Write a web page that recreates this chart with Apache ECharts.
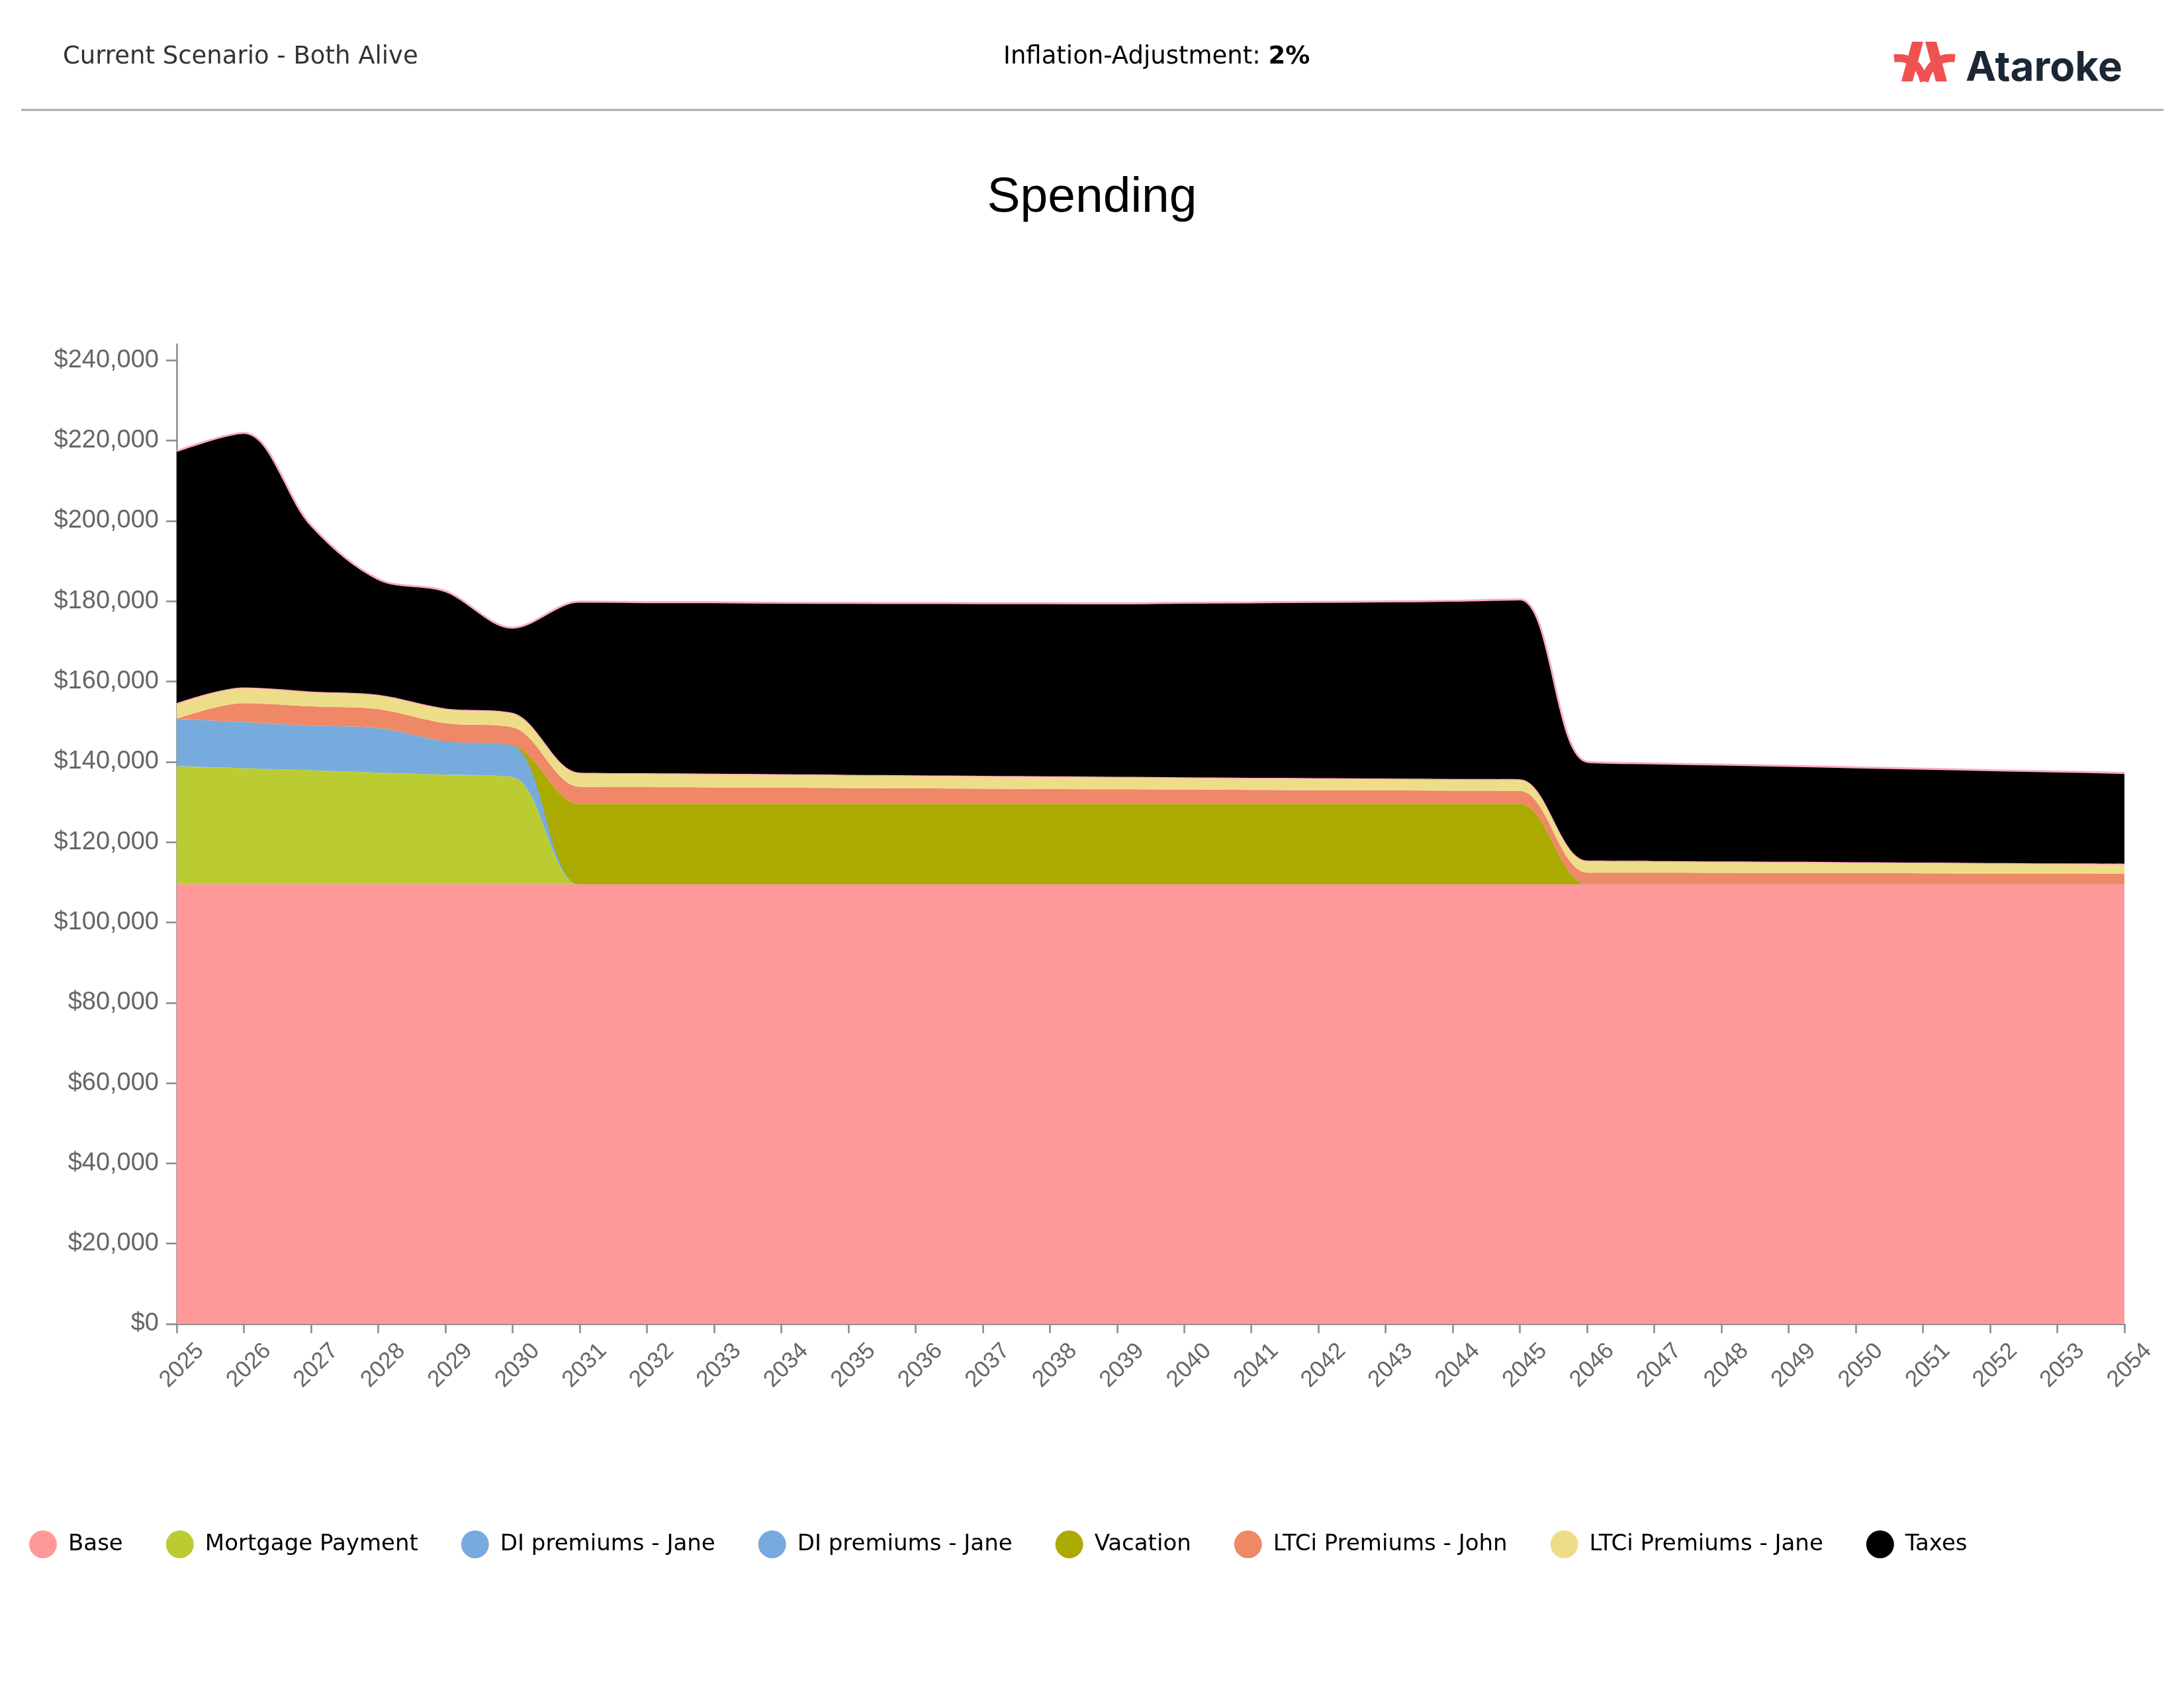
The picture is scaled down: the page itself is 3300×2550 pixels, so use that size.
<!DOCTYPE html>
<html>
<head>
<meta charset="utf-8">
<script src="https://cdn.jsdelivr.net/npm/echarts@6/dist/echarts.min.js"></script>
<style>
html,body{margin:0;padding:0;background:#fff;}
#chart{width:3300px;height:2550px;}
</style>
</head>
<body>
<div id="chart"></div>
<script>
const years = ['2025','2026','2027','2028','2029','2030','2031','2032','2033','2034','2035','2036','2037','2038','2039','2040','2041','2042','2043','2044','2045','2046','2047','2048','2049','2050','2051','2052','2053','2054'];

const base = [109500,109500,109500,109500,109500,109500,109500,109500,109500,109500,109500,109500,109500,109500,109500,109500,109500,109500,109500,109500,109500,109500,109500,109500,109500,109500,109500,109500,109500,109500];
const mortgage = [29400,28900,28400,27800,27300,26700,0,0,0,0,0,0,0,0,0,0,0,0,0,0,0,0,0,0,0,0,0,0,0,0];
const diJaneA = [8400,8300,8200,8100,8300,7900,0,0,0,0,0,0,0,0,0,0,0,0,0,0,0,0,0,0,0,0,0,0,0,0];
const diJaneB = [3400,3200,2900,3000,0,0,0,0,0,0,0,0,0,0,0,0,0,0,0,0,0,0,0,0,0,0,0,0,0,0];
const vacation = [0,0,0,0,0,0,20000,20000,20000,20000,20000,20000,20000,20000,20000,20000,20000,20000,20000,20000,20000,0,0,0,0,0,0,0,0,0];
const ltcJohn = [0,4700,4800,4700,4500,4500,4300,4210,4130,4050,3970,3890,3810,3730,3660,3590,3510,3440,3380,3310,3240,2900,2900,2850,2800,2800,2750,2700,2700,2650];
const ltcJane = [3900,3900,3700,3600,3700,3600,3500,3450,3400,3350,3300,3250,3200,3150,3100,3050,3000,3000,2950,2900,2900,3000,2900,2850,2800,2700,2650,2600,2500,2450];
const taxes = [62800,63400,41400,28800,29200,21200,42600,42600,42700,42700,42800,42900,43000,43100,43200,43500,43700,43900,44100,44400,44800,24600,24300,24100,23900,23600,23400,23100,22900,22600];

const seriesNames = ['Base','Mortgage Payment','DI premiums - Jane','DI premiums - Jane ','Vacation','LTCi Premiums - John','LTCi Premiums - Jane','Taxes'];
const seriesData = [base, mortgage, diJaneA, diJaneB, vacation, ltcJohn, ltcJane, taxes];
const colors = ['#FF9999','#BBCC33','#77AADD','#77AADD','#AAAA00','#EE8866','#EEDD88','#000000'];
const zOrder = [20, 3, 4, 5, 6, 7, 8, 9];

const chart = echarts.init(document.getElementById('chart'), null, {renderer:'canvas'});

const series = seriesNames.map((n, i) => {
  let ls = { width: 0 };
  if (i === 6 || i === 7) ls = { color: '#FFAABB', width: 3 };
  if (i === 2) ls = { color: colors[i], width: 2 };
  return {
    name: n,
    type: 'line',
    stack: 'total',
    data: seriesData[i],
    smooth: 0.33,
    showSymbol: false,
    symbol: 'none',
    color: colors[i],
    areaStyle: { color: colors[i], opacity: 1 },
    lineStyle: ls,
    emphasis: { disabled: true },
    z: zOrder[i]
  };
});

const option = {
  animation: false,
  backgroundColor: '#ffffff',
  grid: { left: 267, right: 90, top: 520, bottom: 550, containLabel: false },
  legend: {
    data: seriesNames,
    left: 39,
    top: 2307,
    icon: 'circle',
    itemWidth: 66,
    itemHeight: 42,
    itemGap: 65,
    formatter: n => n.trim(),
    textStyle: { fontFamily: 'DejaVu Sans', fontSize: 34, color: '#000' },
    selectedMode: false
  },
  xAxis: {
    type: 'category',
    data: years,
    boundaryGap: false,
    axisLine: { lineStyle: { color: '#888', width: 2.5 } },
    axisTick: { show: true, length: 14, interval: 0, lineStyle: { color: '#888', width: 2.5 } },
    axisLabel: {
      interval: 0,
      rotate: 45,
      align: 'right',
      verticalAlign: 'top',
      lineHeight: 100,
      margin: 0,
      fontFamily: 'Liberation Sans',
      fontSize: 35,
      color: '#666'
    },
    splitLine: { show: false }
  },
  yAxis: {
    type: 'value',
    min: 0,
    max: 244000,
    interval: 20000,
    axisLine: { show: true, lineStyle: { color: '#888', width: 2.5 } },
    axisTick: { show: true, length: 16, lineStyle: { color: '#888', width: 2.5 } },
    axisLabel: {
      showMaxLabel: false,
      margin: 27,
      fontFamily: 'Liberation Sans',
      fontSize: 38,
      color: '#666',
      formatter: v => '$' + v.toLocaleString('en-US')
    },
    splitLine: { show: false }
  },
  graphic: [
    { type: 'text', left: 95, top: 68, style: { text: 'Current Scenario - Both Alive', font: '37px "DejaVu Sans"', fill: '#333' } },
    { type: 'text', left: 1516, top: 68, style: {
        text: '{a|Inflation-Adjustment: }{b|2%}',
        rich: {
          a: { fontFamily: 'DejaVu Sans', fontSize: 37, color: '#333' },
          b: { fontFamily: 'DejaVu Sans', fontSize: 37, fontWeight: 'bold', color: '#333' }
        }
      } },
    { type: 'polygon', shape: { points: [[2889,63],[2906,63],[2890,123],[2873,123]] }, style: { fill: '#F05252' } },
    { type: 'polygon', shape: { points: [[2909,63],[2926,63],[2942,123],[2925,123]] }, style: { fill: '#F05252' } },
    { type: 'bezierCurve', shape: { x1: 2862, y1: 88, cpx1: 2898, cpy1: 84, x2: 2907, y2: 123 }, style: { stroke: '#F05252', lineWidth: 12, fill: null } },
    { type: 'bezierCurve', shape: { x1: 2954, y1: 88, cpx1: 2918, cpy1: 84, x2: 2908, y2: 123 }, style: { stroke: '#F05252', lineWidth: 12, fill: null } },
    { type: 'text', left: 2970, top: 72, style: { text: 'Ataroke', font: 'bold 62px Inter', fill: '#1B2735' } },
    { type: 'line', shape: { x1: 32, y1: 166, x2: 3269, y2: 166 }, style: { stroke: '#AAAAAA', lineWidth: 3 } },
    { type: 'text', x: 1650, y: 299, style: { text: 'Spending', font: '75px "Liberation Sans"', fill: '#000', align: 'center', verticalAlign: 'middle' } }
  ],
  series: series
};

chart.setOption(option);
</script>
</body>
</html>
